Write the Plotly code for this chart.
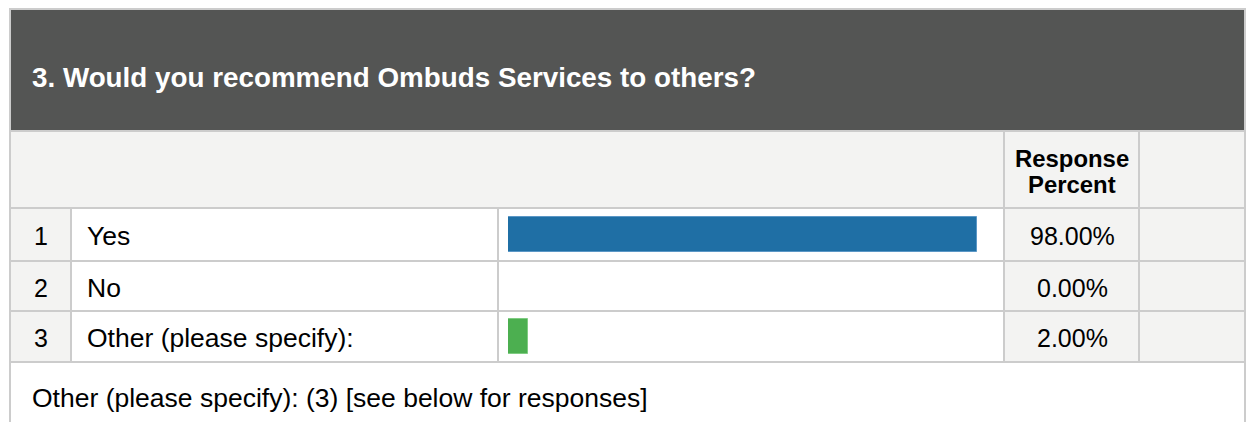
import plotly.graph_objects as go

# ---- data ----
question_title = "3. Would you recommend Ombuds Services to others?"
row_numbers = ["1", "2", "3"]
answer_labels = ["Yes", "No", "Other (please specify):"]
response_percent = [98.0, 0.0, 2.0]
bar_colors = ["#1f6fa5", "#1f6fa5", "#4caf50"]
bar_edge_colors = ["#5b97c6", "#5b97c6", "#7fcc82"]
column_header = ["Response", "Percent"]
footer_text = "Other (please specify): (3) [see below for responses]"

# ---- layout constants (pixels) ----
W, H = 1246, 422
BORDER = "#cccccc"
GRAY = "#f3f3f2"
DARK = "#545554"
FONT = "Liberation Sans, Arial, Helvetica, sans-serif"
LABEL_SIZE = 26.5
NUM_SIZE = 25
TITLE_SIZE = 27.8
HEAD_SIZE = 23.9
PAD = 3  # annotation inner padding compensation
ROW_TEXT_DY = 1.5

row_bounds = [(209, 260), (262, 310), (312, 361)]
col_bounds = [(11, 70), (72, 497), (499, 1003), (1005, 1138), (1140, 1244)]
col_fill = [GRAY, "white", "white", GRAY, GRAY]

BAR_X0 = 508            # left edge of bar area
PX_PER_PCT = 4.781      # bar scale
MIN_BAR_PX = 20         # minimum visible length for non-zero answers


def px(x):
    return x / W


def py(y):
    return 1 - y / H


shapes = []


def rect(x0, x1, y0, y1, color):
    shapes.append(dict(type="rect", xref="paper", yref="paper",
                       x0=px(x0), x1=px(x1), y0=py(y1), y1=py(y0),
                       fillcolor=color, line=dict(width=0), layer="below"))


# border background (grid lines show through the gaps)
rect(9, W, 8, H, BORDER)
# header
rect(11, 1244, 10, 130, DARK)
# column header row
rect(11, 1003, 132, 207, GRAY)
rect(1005, 1138, 132, 207, GRAY)
rect(1140, 1244, 132, 207, GRAY)
# body rows
for (y0, y1) in row_bounds:
    for (x0, x1), c in zip(col_bounds, col_fill):
        rect(x0, x1, y0, y1, c)
# footer
rect(11, 1244, 363, H, "white")

annotations = []


def text(x, y, s, size, color="#000000", bold=False, anchor="left"):
    if anchor == "left":
        x -= PAD
    annotations.append(dict(xref="paper", yref="paper", x=px(x), y=py(y),
                            text=f"<b>{s}</b>" if bold else s,
                            showarrow=False, xanchor=anchor, yanchor="middle",
                            font=dict(family=FONT, size=size, color=color)))


text(33, 77.5, question_title, TITLE_SIZE, color="white", bold=True)
text(1072, 158, column_header[0], HEAD_SIZE, bold=True, anchor="center")
text(1072, 185, column_header[1], HEAD_SIZE, bold=True, anchor="center")
for (y0, y1), n, lab, p in zip(row_bounds, row_numbers, answer_labels, response_percent):
    yc = (y0 + y1) / 2 + ROW_TEXT_DY
    text(40.5, yc, n, NUM_SIZE, anchor="center")
    text(88, yc, lab, LABEL_SIZE)
    text(1072, yc, f"{p:.2f}%", NUM_SIZE, anchor="center")
text(33, 397.5, footer_text, LABEL_SIZE)

# bar lengths: true value, but non-zero answers get a minimum visible length
min_pct = MIN_BAR_PX / PX_PER_PCT
bar_len = [max(v, min_pct) if v > 0 else 0 for v in response_percent]

fig = go.Figure()
fig.add_trace(go.Bar(
    y=answer_labels, x=bar_len, orientation="h", width=0.686,
    marker=dict(color=bar_colors, line=dict(color=bar_edge_colors, width=1)),
    customdata=response_percent,
    hovertemplate="%{y}: %{customdata:.2f}%<extra></extra>",
))

x_end = BAR_X0 + 100 * PX_PER_PCT
fig.update_layout(
    width=W, height=H, margin=dict(l=0, r=0, t=0, b=0),
    paper_bgcolor="white", plot_bgcolor="rgba(0,0,0,0)",
    showlegend=False, shapes=shapes, annotations=annotations,
    xaxis=dict(domain=[px(BAR_X0), px(x_end)], range=[0, 100],
               visible=False, fixedrange=True),
    yaxis=dict(domain=[py(row_bounds[-1][1] + 1), py(row_bounds[0][0])],
               categoryorder="array", categoryarray=answer_labels,
               range=[2.5, -0.5], visible=False, fixedrange=True),
    bargap=0,
)

fig.write_html("out.html")
